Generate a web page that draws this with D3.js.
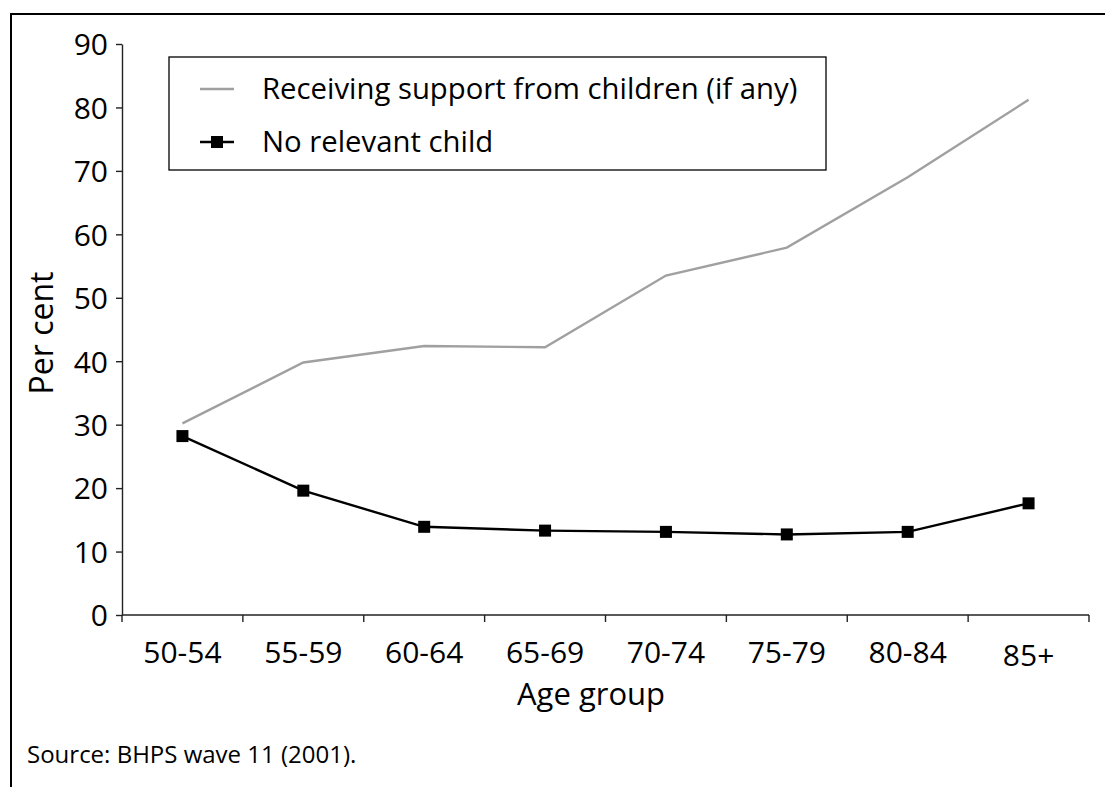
<!DOCTYPE html>
<html><head><meta charset="utf-8">
<script src="https://cdn.jsdelivr.net/npm/d3@7"></script>
<style>
body{margin:0;background:#fff;}
text{font-family:"Open Sans","Noto Sans",sans-serif;fill:#000;}
</style></head>
<body>
<svg id="chart" width="1105" height="787"></svg>
<script>
const categories = ["50-54","55-59","60-64","65-69","70-74","75-79","80-84","85+"];
const supportValues = [30.2, 39.8, 42.4, 42.2, 53.5, 57.9, 69.0, 81.2];
const noChildValues = [28.2, 19.6, 13.9, 13.3, 13.1, 12.7, 13.1, 17.6];
const yTicks = [0,10,20,30,40,50,60,70,80,90];
const seriesNames = ["Receiving support from children (if any)", "No relevant child"];

(function(){
const svg = d3.select("#chart");
const mLeft = 122, mRight = 1089, mTop = 44, mBottom = 615;

svg.append("line").attr("x1",11).attr("x2",1105).attr("y1",14).attr("y2",14).attr("stroke","#000").attr("stroke-width",2);
svg.append("line").attr("x1",11).attr("x2",11).attr("y1",13).attr("y2",787).attr("stroke","#000").attr("stroke-width",2);

const x = d3.scaleBand().domain(categories).range([mLeft,mRight]);
const y = d3.scaleLinear().domain([0,90]).range([mBottom,mTop]);

const yAxis = svg.append("g").attr("transform",`translate(${mLeft},0)`)
  .call(d3.axisLeft(y).tickValues(yTicks).tickSize(6).tickPadding(8).tickSizeOuter(0));
yAxis.selectAll("text").style("font-size","30px").attr("dy","0.36em");
yAxis.selectAll("line,path").attr("stroke","#222").attr("stroke-width",1.4);

const xAxis = svg.append("g").attr("transform",`translate(0,${mBottom})`)
  .call(d3.axisBottom(x).tickSize(0));
xAxis.selectAll("text").style("font-size","30px").attr("y",48).attr("dy",0)
  .attr("transform", d => d==="85+" ? "translate(0,3)" : null);
xAxis.select(".domain").attr("stroke","#222").attr("stroke-width",1.4).attr("d",`M${mLeft},0H${mRight}`);
xAxis.selectAll(".tick line").remove();
const bounds = categories.map(c => x(c)).concat([mRight]);
xAxis.selectAll(".bt").data(bounds).enter().append("line")
  .attr("x1",d=>d).attr("x2",d=>d).attr("y1",0).attr("y2",7).attr("stroke","#222").attr("stroke-width",1.4);

const cx = c => x(c) + x.bandwidth()/2;
const line = d3.line().x((d,i)=>cx(categories[i])).y(d=>y(d));

svg.append("path").datum(supportValues).attr("d",line).attr("fill","none").attr("stroke","#a0a0a0").attr("stroke-width",2.4);
svg.append("path").datum(noChildValues).attr("d",line).attr("fill","none").attr("stroke","#000").attr("stroke-width",2.4);
svg.selectAll(".mk").data(noChildValues).enter().append("rect")
  .attr("x",(d,i)=>cx(categories[i])-6).attr("y",d=>y(d)-6).attr("width",12).attr("height",12).attr("fill","#000");

svg.append("text").attr("transform","translate(53,333) rotate(-90)").attr("text-anchor","middle").style("font-size","32px").text("Per cent");
svg.append("text").attr("x",591).attr("y",705).attr("text-anchor","middle").style("font-size","31px").text("Age group");
svg.append("text").attr("x",27).attr("y",763).style("font-size","24px").text("Source: BHPS wave 11 (2001).");

const lg = svg.append("g");
lg.append("rect").attr("x",169).attr("y",57).attr("width",657).attr("height",113).attr("fill","#fff").attr("stroke","#000").attr("stroke-width",1.3);
lg.append("line").attr("x1",200).attr("x2",234).attr("y1",89).attr("y2",89).attr("stroke","#a0a0a0").attr("stroke-width",2.4);
lg.append("line").attr("x1",200).attr("x2",234).attr("y1",142).attr("y2",142).attr("stroke","#000").attr("stroke-width",2.4);
lg.append("rect").attr("x",211).attr("y",136).attr("width",12).attr("height",12).attr("fill","#000");
lg.append("text").attr("x",262).attr("y",99).style("font-size","29.3px").text(seriesNames[0]);
lg.append("text").attr("x",262).attr("y",152).style("font-size","29.3px").text(seriesNames[1]);
})();
</script>
</body></html>
